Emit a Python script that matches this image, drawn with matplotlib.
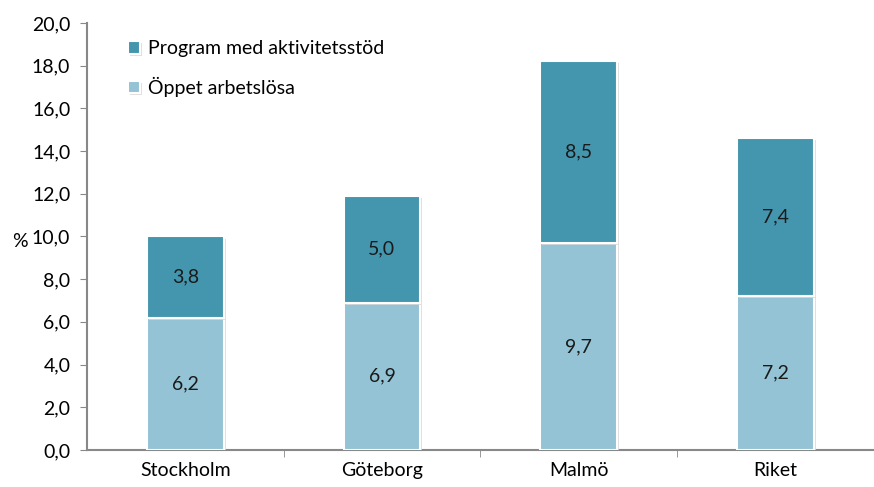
import numpy as np
import matplotlib
matplotlib.use('Agg')
import matplotlib.pyplot as plt
import matplotlib.patheffects as pe

# Data
kommuner = ['Stockholm', 'Göteborg', 'Malmö', 'Riket']
oppet = [6.2, 6.9, 9.7, 7.2]
program = [3.8, 5.0, 8.5, 7.4]

ljus = '#93c3d5'
mork = '#4496ae'

plt.rcParams['font.family'] = ['Lato', 'DejaVu Sans']
fs = 14

fig = plt.figure(figsize=(8.74, 4.87), dpi=100)
ax = fig.add_axes([0.0995, 0.076, 0.9, 0.877])

x = np.arange(len(kommuner))
skugga = [pe.SimplePatchShadow(offset=(1.5, -1.5), shadow_rgbFace='#d8d8d8', alpha=0.8), pe.Normal()]

b1 = ax.bar(x, oppet, width=0.39, color=ljus, edgecolor='white', linewidth=1.5,
            label='Öppet arbetslösa', zorder=3)
b2 = ax.bar(x, program, width=0.39, bottom=oppet, color=mork, edgecolor='white',
            linewidth=1.5, label='Program med aktivitetsstöd', zorder=3)
for b in list(b1) + list(b2):
    b.set_path_effects(skugga)

# Value labels in each segment
for i in range(len(kommuner)):
    ax.text(x[i], oppet[i] / 2, f'{oppet[i]:.1f}'.replace('.', ','),
            ha='center', va='center', fontsize=fs, color='#1a1a1a', zorder=4)
    ax.text(x[i], oppet[i] + program[i] / 2, f'{program[i]:.1f}'.replace('.', ','),
            ha='center', va='center', fontsize=fs, color='#1a1a1a', zorder=4)

ax.set_xlim(-0.5, 3.5)
ax.set_ylim(0, 20)
ax.set_yticks(np.arange(0, 20.1, 2))
ax.set_yticklabels([f'{v:.1f}'.replace('.', ',') for v in np.arange(0, 20.1, 2)])
ax.set_xticks(x)
ax.set_xticklabels(kommuner)
ax.set_xticks(np.arange(0.5, 4, 1), minor=True)
ax.tick_params(axis='x', which='major', length=0, pad=9, labelsize=fs)
ax.tick_params(axis='x', which='minor', length=5, color='#888888', direction='out')
ax.tick_params(axis='y', length=5, color='#888888', labelsize=fs, pad=7)

for s in ['top', 'right']:
    ax.spines[s].set_visible(False)
for s in ['left', 'bottom']:
    ax.spines[s].set_color('#888888')
    ax.spines[s].set_linewidth(1.5)

fig.text(0.014, 0.505, '%', fontsize=fs, ha='left', va='center')

h, l = ax.get_legend_handles_labels()
leg = ax.legend(h[::-1], l[::-1], loc='upper left', bbox_to_anchor=(0.03, 1.0),
                frameon=False, fontsize=fs, handlelength=0.6, handleheight=0.6,
                handletextpad=0.4, labelspacing=1.0)

plt.savefig('out.png', dpi=100)
